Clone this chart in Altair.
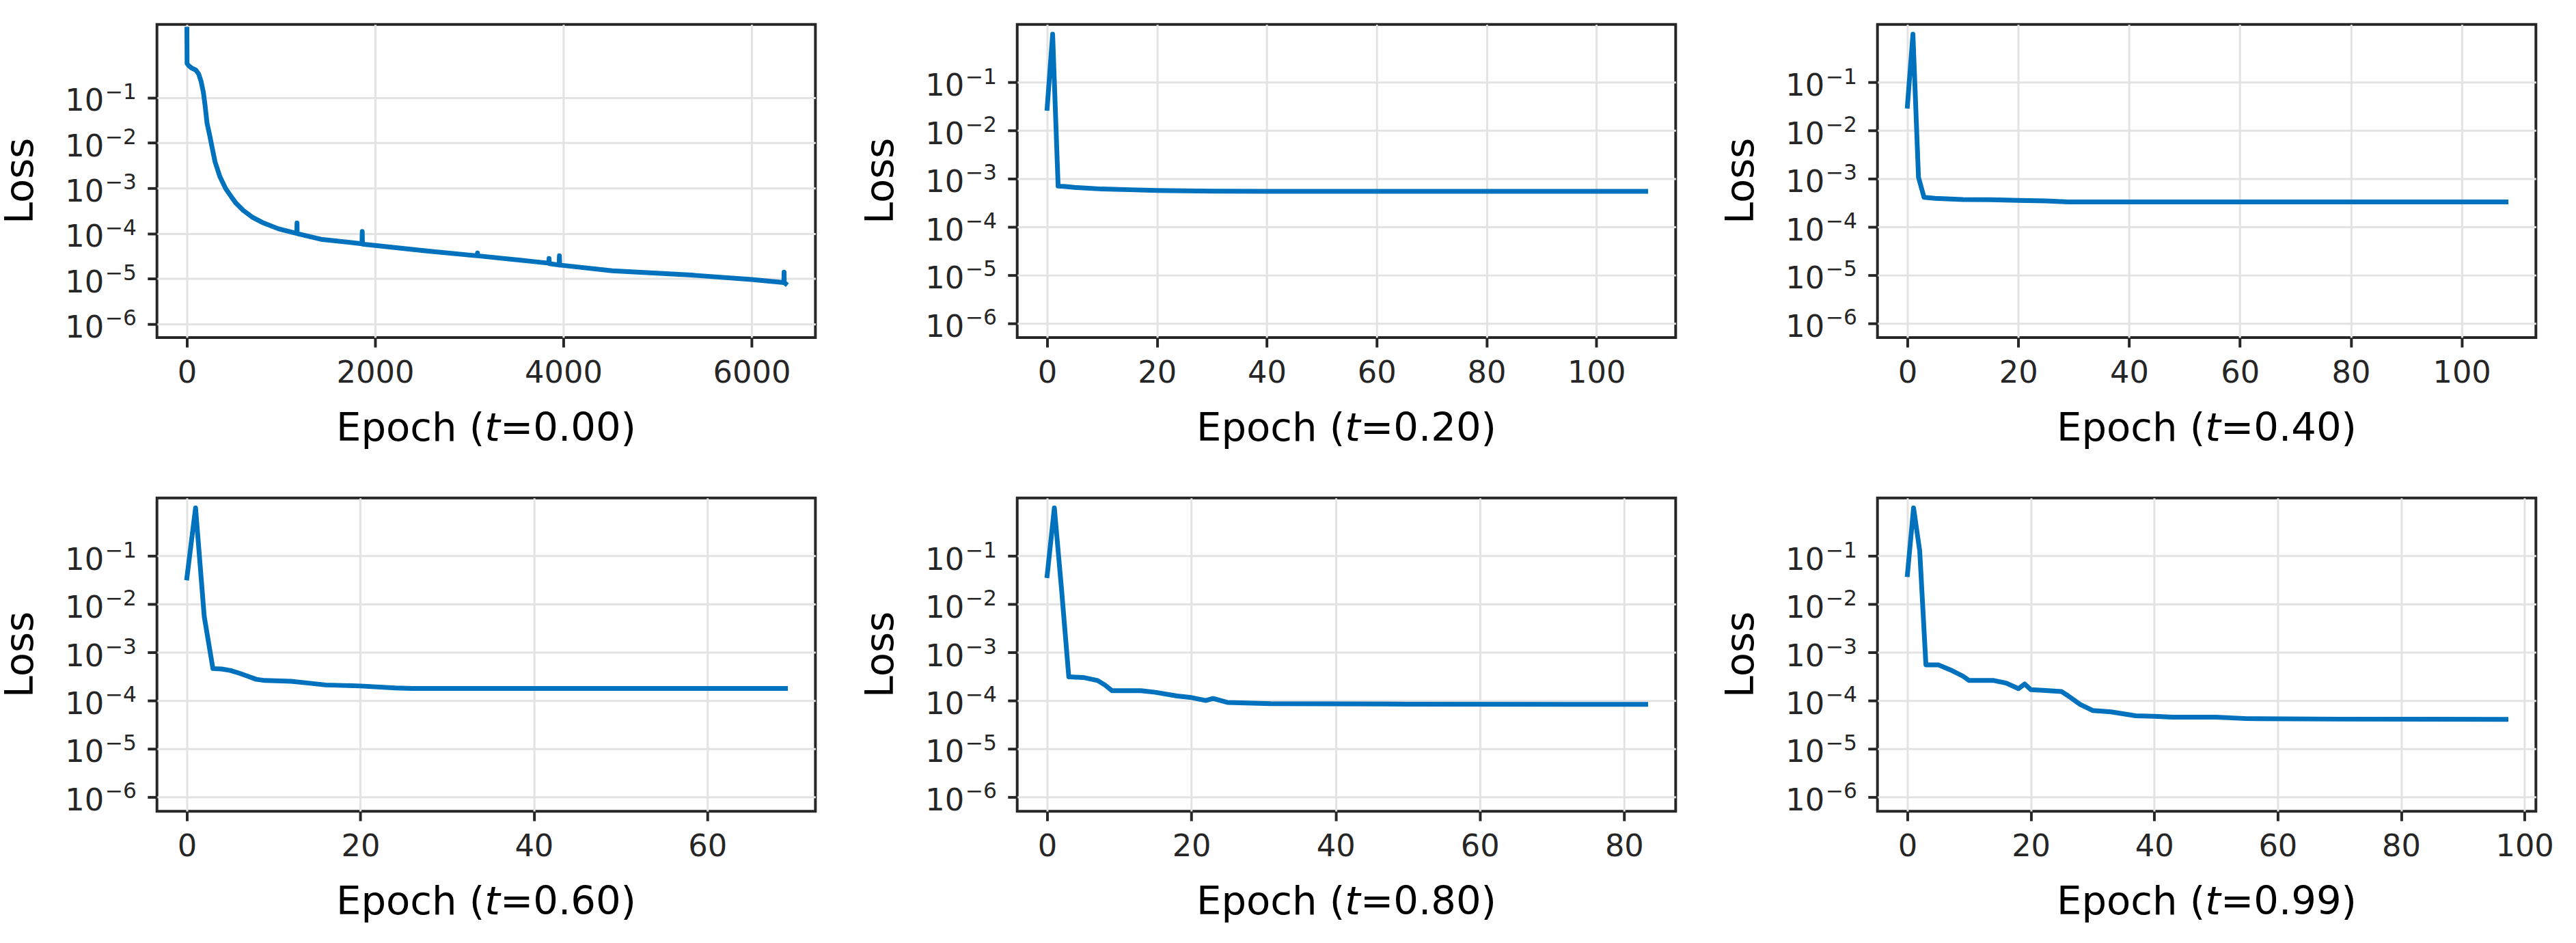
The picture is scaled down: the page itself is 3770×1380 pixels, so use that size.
import altair as alt
import pandas as pd

FONT = "DejaVu Sans"
BLUE = "#0072BD"
INK = "#262626"
GRID = "#e3e3e3"

W, H = 969, 461

# time slices of the solver, one training run each
t_values = ["0.00", "0.20", "0.40", "0.60", "0.80", "0.99"]

epochs_000 = [0, 2, 20, 48, 96, 125, 150, 175, 193, 214, 241, 270, 299, 350, 411,
              470, 523, 600, 692, 800, 974, 1168, 1170, 1172, 1425, 1860, 1863,
              1866, 2548, 3085, 3088, 3091, 3672, 3845, 3848, 3851, 3955, 3958,
              3961, 4518, 5362, 5997, 6343, 6345, 6347, 6360]
loss_000 = [3.2, 0.56, 0.50, 0.45, 0.40, 0.33, 0.23, 0.13, 0.067, 0.027, 0.015,
            0.0075, 0.0038, 0.0018, 9.8e-4, 6.5e-4, 4.6e-4, 3.2e-4, 2.3e-4,
            1.75e-4, 1.26e-4, 1.0e-4, 1.7e-4, 9.9e-5, 7.4e-5, 5.9e-5, 1.1e-4,
            5.8e-5, 4.1e-5, 3.2e-5, 3.7e-5, 3.2e-5, 2.4e-5, 2.2e-5, 2.8e-5,
            2.15e-5, 2.0e-5, 3.2e-5, 2.0e-5, 1.5e-5, 1.2e-5, 9.6e-6, 8.2e-6,
            1.4e-5, 8.2e-6, 7.8e-6]

epochs_020 = [0, 1, 2, 3, 5, 10, 15, 20, 25, 30, 40, 60, 80, 109]
loss_020 = [0.029, 1.0, 7.0e-4, 6.9e-4, 6.6e-4, 6.1e-4, 5.9e-4, 5.7e-4, 5.6e-4,
            5.5e-4, 5.45e-4, 5.45e-4, 5.45e-4, 5.45e-4]

epochs_040 = [0, 1, 2, 3, 5, 10, 15, 20, 25, 29, 40, 60, 80, 108]
loss_040 = [0.032, 1.0, 1.07e-3, 4.1e-4, 3.9e-4, 3.7e-4, 3.65e-4, 3.55e-4, 3.45e-4,
            3.3e-4, 3.3e-4, 3.3e-4, 3.3e-4, 3.3e-4]

epochs_060 = [0, 1, 2, 3, 4, 5, 6, 7, 8, 9, 12, 14, 16, 20, 24, 26, 40, 69]
loss_060 = [0.035, 1.0, 5.5e-3, 4.6e-4, 4.5e-4, 4.2e-4, 3.7e-4, 3.2e-4, 2.75e-4,
            2.6e-4, 2.5e-4, 2.3e-4, 2.1e-4, 2.0e-4, 1.82e-4, 1.78e-4, 1.78e-4,
            1.78e-4]

epochs_080 = [0, 1, 2, 3, 5, 7, 8, 9, 13, 15, 18, 20, 22, 23, 25, 31, 50, 83]
loss_080 = [0.039, 1.0, 0.02, 3.1e-4, 3.0e-4, 2.6e-4, 2.1e-4, 1.6e-4, 1.6e-4,
            1.48e-4, 1.24e-4, 1.15e-4, 1.0e-4, 1.1e-4, 9.1e-5, 8.6e-5, 8.4e-5,
            8.3e-5]

epochs_099 = [0, 1, 2, 3, 5, 7, 9, 10, 14, 16, 18, 19, 20, 22, 25, 26, 28, 30, 33,
              37, 40, 43, 50, 55, 70, 97]
loss_099 = [0.041, 1.0, 0.126, 5.5e-4, 5.5e-4, 4.3e-4, 3.2e-4, 2.6e-4, 2.6e-4,
            2.3e-4, 1.76e-4, 2.2e-4, 1.68e-4, 1.62e-4, 1.53e-4, 1.26e-4, 8.3e-5,
            6.2e-5, 5.8e-5, 4.8e-5, 4.7e-5, 4.5e-5, 4.5e-5, 4.2e-5, 4.1e-5,
            4.05e-5]

epochs_all = [epochs_000, epochs_020, epochs_040, epochs_060, epochs_080, epochs_099]
loss_all = [loss_000, loss_020, loss_040, loss_060, loss_080, loss_099]

x_ticks = [
    [0, 2000, 4000, 6000],
    [0, 20, 40, 60, 80, 100],
    [0, 20, 40, 60, 80, 100],
    [0, 20, 40, 60],
    [0, 20, 40, 60, 80],
    [0, 20, 40, 60, 80, 100],
]
y_ticks = [1e-6, 1e-5, 1e-4, 1e-3, 1e-2, 1e-1]
y_exponents = ["\u22126", "\u22125", "\u22124", "\u22123", "\u22122", "\u22121"]
y_upper = [4.1, 1.6, 1.6, 1.6, 1.6, 1.6]
y_lower = 5e-7

TITLE_SIZE = 58
TICK_SIZE = 45
SUP_SIZE = 31.5

# cell extent around each plot area (left, right, top, bottom margins)
M_LEFT, M_RIGHT, M_TOP, M_BOTTOM = 226, 57, 30, 196


def panel(i):
    df = pd.DataFrame({"epoch": epochs_all[i], "loss": loss_all[i]})
    last = max(epochs_all[i])
    pad = 0.05 * last
    x = alt.X(
        "epoch:Q",
        scale=alt.Scale(domain=[-pad, last + pad], nice=False, zero=False),
        axis=alt.Axis(values=x_ticks[i], format="d", title=None),
    )
    y_scale = alt.Scale(type="log", domain=[y_lower, y_upper[i]], nice=False)
    y_axis = alt.Axis(values=y_ticks, labels=False, title=None)
    y = alt.Y("loss:Q", scale=y_scale, axis=y_axis)

    line = alt.Chart(df).mark_line(
        color=BLUE, strokeWidth=7, strokeCap="square", strokeJoin="round"
    ).encode(x=x, y=y)

    # y tick labels written as 10 with a raised exponent
    ticks_df = pd.DataFrame({"loss": y_ticks, "base": ["10"] * len(y_ticks), "exp": y_exponents})
    tick_base = alt.Chart(ticks_df)
    lab_base = tick_base.mark_text(
        align="right", baseline="alphabetic", font=FONT, fontSize=TICK_SIZE,
        color=INK, dy=20
    ).encode(x=alt.value(-78), y=alt.Y("loss:Q", scale=y_scale, axis=y_axis), text="base:N")
    lab_exp = tick_base.mark_text(
        align="right", baseline="alphabetic", font=FONT, fontSize=SUP_SIZE,
        color=INK, dy=2
    ).encode(x=alt.value(-30), y=alt.Y("loss:Q", scale=y_scale, axis=y_axis), text="exp:N")

    one = alt.Chart(alt.Data(values=[{}]))
    common = dict(font=FONT, fontSize=TITLE_SIZE, baseline="alphabetic", color="black")

    # y caption
    y_title = one.mark_text(text="Loss", align="center", angle=270, **common).encode(
        x=alt.value(-183), y=alt.value(H / 2)
    )

    # x caption "Epoch (t=...)" with an italic t
    pos = dict(x=alt.value(W / 2), y=alt.value(H + 152))
    part_a = one.mark_text(text="Epoch (", align="right", dx=-2.2, **common).encode(**pos)
    part_t = one.mark_text(text="t", align="left", dx=-2.2, fontStyle="italic", **common).encode(**pos)
    part_b = one.mark_text(text="=" + t_values[i] + ")", align="left", dx=20.5, **common).encode(**pos)

    # transparent frame that fixes the extent of the cell
    frame_h = one.mark_rule(opacity=0, strokeWidth=1).encode(
        x=alt.value(-M_LEFT), x2=alt.value(W + M_RIGHT), y=alt.value(-M_TOP)
    )
    frame_v = one.mark_rule(opacity=0, strokeWidth=1).encode(
        x=alt.value(-M_LEFT), y=alt.value(-M_TOP), y2=alt.value(H + M_BOTTOM)
    )

    return alt.layer(
        line, lab_base, lab_exp, y_title, part_a, part_t, part_b, frame_h, frame_v
    ).properties(width=W, height=H)


row1 = alt.hconcat(panel(0), panel(1), panel(2), spacing=7)
row2 = alt.hconcat(panel(3), panel(4), panel(5), spacing=7)

chart = alt.vconcat(row1, row2, spacing=6).configure(
    background="white",
    padding={"left": 0, "top": 0, "right": 0, "bottom": 0},
).configure_view(
    stroke=INK, strokeWidth=4
).configure_axis(
    domain=False,
    grid=True,
    gridColor=GRID,
    gridWidth=3,
    ticks=True,
    tickColor=INK,
    tickWidth=4,
    tickSize=14,
    labelFont=FONT,
    labelFontSize=TICK_SIZE,
    labelColor=INK,
    labelPadding=16,
    labelFlush=False,
    labelOverlap=False,
)

chart.save("out.html", embed_options={"renderer": "svg", "actions": False})
